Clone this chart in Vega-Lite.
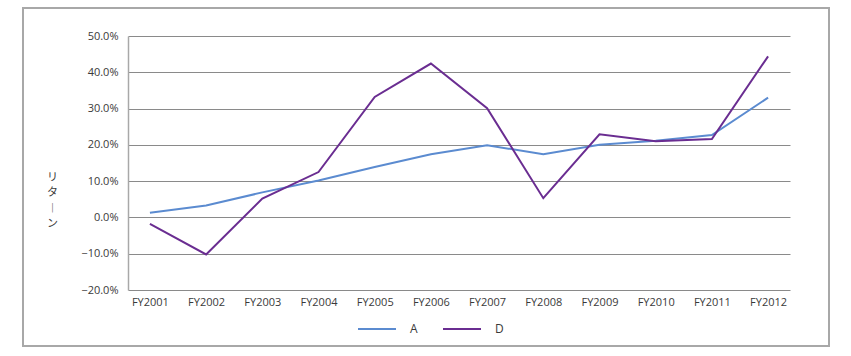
{
  "$schema": "https://vega.github.io/schema/vega-lite/v6.json",
  "width": 806,
  "height": 338,
  "autosize": {"type": "none"},
  "padding": {"left": 23, "top": 8, "right": 22, "bottom": 10},
  "background": "white",
  "config": {
    "view": {"stroke": "#a8a8a8", "strokeWidth": 2},
    "font": "Open Sans"
  },
  "data": {
    "values": [
      {"year": "FY2001", "series": "A", "value": 0.013},
      {"year": "FY2002", "series": "A", "value": 0.033},
      {"year": "FY2003", "series": "A", "value": 0.069},
      {"year": "FY2004", "series": "A", "value": 0.102},
      {"year": "FY2005", "series": "A", "value": 0.139},
      {"year": "FY2006", "series": "A", "value": 0.174},
      {"year": "FY2007", "series": "A", "value": 0.199},
      {"year": "FY2008", "series": "A", "value": 0.174},
      {"year": "FY2009", "series": "A", "value": 0.200},
      {"year": "FY2010", "series": "A", "value": 0.211},
      {"year": "FY2011", "series": "A", "value": 0.227},
      {"year": "FY2012", "series": "A", "value": 0.330},
      {"year": "FY2001", "series": "D", "value": -0.018},
      {"year": "FY2002", "series": "D", "value": -0.102},
      {"year": "FY2003", "series": "D", "value": 0.052},
      {"year": "FY2004", "series": "D", "value": 0.125},
      {"year": "FY2005", "series": "D", "value": 0.332},
      {"year": "FY2006", "series": "D", "value": 0.424},
      {"year": "FY2007", "series": "D", "value": 0.301},
      {"year": "FY2008", "series": "D", "value": 0.053},
      {"year": "FY2009", "series": "D", "value": 0.229},
      {"year": "FY2010", "series": "D", "value": 0.210},
      {"year": "FY2011", "series": "D", "value": 0.216},
      {"year": "FY2012", "series": "D", "value": 0.444}
    ]
  },
  "mark": {"type": "line", "strokeWidth": 2},
  "encoding": {
    "x": {
      "field": "year",
      "type": "ordinal",
      "scale": {"type": "point", "range": [105, 767], "padding": 0.39},
      "axis": {
        "title": null,
        "orient": "bottom",
        "offset": -56,
        "domain": false,
        "ticks": false,
        "grid": false,
        "labelAngle": 0,
        "labelPadding": 6,
        "labelFontSize": 11,
        "labelColor": "#3a3a3a"
      }
    },
    "y": {
      "field": "value",
      "type": "quantitative",
      "scale": {"domain": [-0.2, 0.5], "range": [282, 28], "nice": false, "zero": false},
      "axis": {
        "values": [-0.2, -0.1, 0, 0.1, 0.2, 0.3, 0.4, 0.5],
        "format": ".1%",
        "offset": -105,
        "grid": true,
        "gridScale": "x",
        "gridColor": "#8a8a8a",
        "gridWidth": 1,
        "domain": true,
        "domainColor": "#a8a8a8",
        "domainWidth": 1.5,
        "ticks": false,
        "labelPadding": 10,
        "labelFontSize": 11,
        "labelColor": "#3a3a3a",
        "title": ["リ", "タ", "︱", "ン"],
        "titleFont": "Noto Sans CJK JP",
        "titleFontSize": 11,
        "titleFontWeight": "normal",
        "titleColor": "#3a3a3a",
        "titleAngle": 0,
        "titleAlign": "center",
        "titleBaseline": "top",
        "titleLineHeight": 15.5,
        "titleX": -76,
        "titleY": 163
      }
    },
    "color": {
      "field": "series",
      "type": "nominal",
      "scale": {"domain": ["A", "D"], "range": ["#5b8bd0", "#6a2d91"]},
      "legend": {
        "title": null,
        "orient": "none",
        "direction": "horizontal",
        "legendX": 334,
        "legendY": 301,
        "symbolType": "stroke",
        "symbolSize": 1444,
        "symbolStrokeWidth": 2,
        "labelOffset": 13,
        "columnPadding": 21,
        "labelFontSize": 12,
        "labelColor": "#3a3a3a"
      }
    }
  }
}
